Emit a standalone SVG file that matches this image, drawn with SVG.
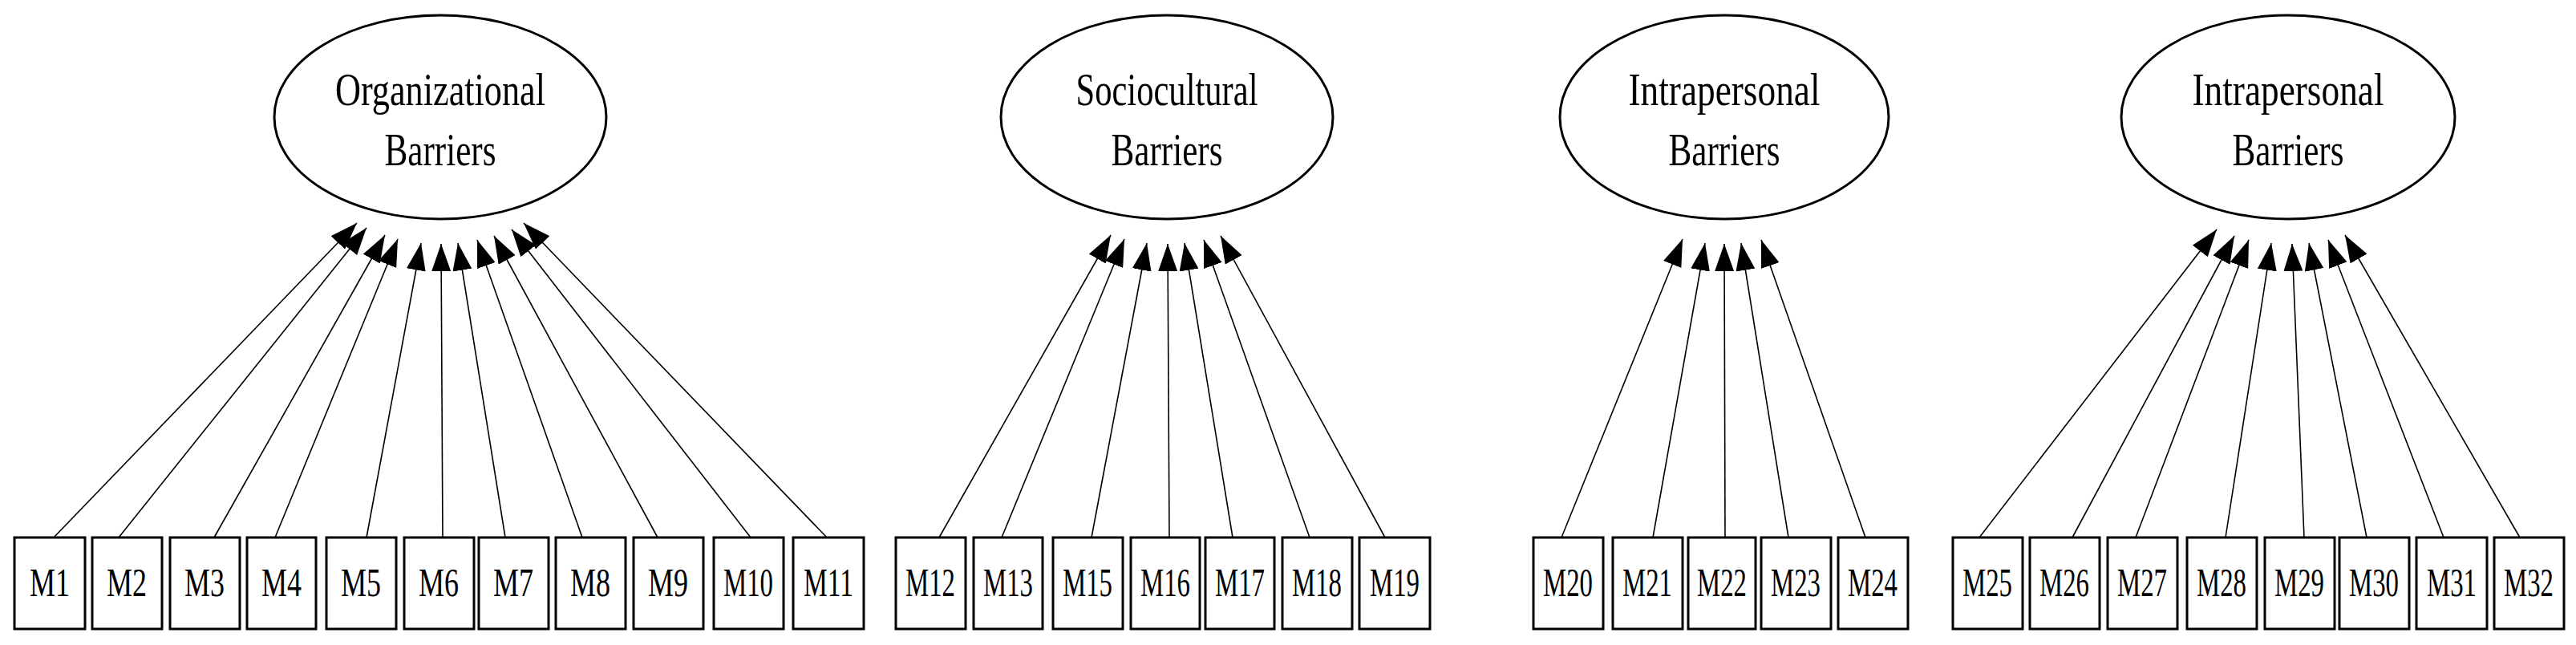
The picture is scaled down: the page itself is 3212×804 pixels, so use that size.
<svg xmlns="http://www.w3.org/2000/svg" width="3212" height="804" viewBox="0 0 3212 804">
<style>
text{font-family:"Liberation Serif","Times New Roman",serif;fill:#000;text-anchor:middle}
.lat{font-size:56px}
.obs{font-size:50px}
ellipse,rect{fill:#fff;stroke:#000;stroke-width:3}
line{stroke:#000;stroke-width:1.6}
</style>
<defs>
<marker id="ah" markerUnits="userSpaceOnUse" markerWidth="34" markerHeight="24" refX="34" refY="12" orient="auto" viewBox="0 0 34 24"><path d="M0,0 L34,12 L0,24 z" fill="#000"/></marker>
</defs>
<g id="connectors">
<line x1="67" y1="670" x2="445" y2="278" marker-end="url(#ah)"/>
<line x1="148" y1="670" x2="457" y2="284" marker-end="url(#ah)"/>
<line x1="267" y1="670" x2="480" y2="293" marker-end="url(#ah)"/>
<line x1="343" y1="670" x2="496" y2="298" marker-end="url(#ah)"/>
<line x1="457" y1="670" x2="525" y2="303" marker-end="url(#ah)"/>
<line x1="552" y1="670" x2="550" y2="304" marker-end="url(#ah)"/>
<line x1="630" y1="670" x2="571" y2="303" marker-end="url(#ah)"/>
<line x1="726" y1="670" x2="595" y2="299" marker-end="url(#ah)"/>
<line x1="820" y1="670" x2="616" y2="294" marker-end="url(#ah)"/>
<line x1="936" y1="670" x2="638" y2="286" marker-end="url(#ah)"/>
<line x1="1031" y1="670" x2="653" y2="278" marker-end="url(#ah)"/>
<line x1="1171" y1="670" x2="1385" y2="293" marker-end="url(#ah)"/>
<line x1="1249" y1="670" x2="1402" y2="298" marker-end="url(#ah)"/>
<line x1="1361" y1="670" x2="1430" y2="303" marker-end="url(#ah)"/>
<line x1="1458" y1="670" x2="1456" y2="304" marker-end="url(#ah)"/>
<line x1="1537" y1="670" x2="1477" y2="303" marker-end="url(#ah)"/>
<line x1="1633" y1="670" x2="1501" y2="299" marker-end="url(#ah)"/>
<line x1="1727" y1="670" x2="1522" y2="294" marker-end="url(#ah)"/>
<line x1="1947" y1="670" x2="2098" y2="298" marker-end="url(#ah)"/>
<line x1="2061" y1="670" x2="2126" y2="303" marker-end="url(#ah)"/>
<line x1="2151" y1="670" x2="2150" y2="304" marker-end="url(#ah)"/>
<line x1="2230" y1="670" x2="2171" y2="303" marker-end="url(#ah)"/>
<line x1="2326" y1="670" x2="2196" y2="299" marker-end="url(#ah)"/>
<line x1="2468" y1="670" x2="2764" y2="286" marker-end="url(#ah)"/>
<line x1="2584" y1="670" x2="2786" y2="294" marker-end="url(#ah)"/>
<line x1="2663" y1="670" x2="2804" y2="299" marker-end="url(#ah)"/>
<line x1="2775" y1="670" x2="2832" y2="303" marker-end="url(#ah)"/>
<line x1="2873" y1="670" x2="2858" y2="304" marker-end="url(#ah)"/>
<line x1="2951" y1="670" x2="2879" y2="303" marker-end="url(#ah)"/>
<line x1="3047" y1="670" x2="2903" y2="299" marker-end="url(#ah)"/>
<line x1="3142" y1="670" x2="2924" y2="293" marker-end="url(#ah)"/>
</g>
<g id="organizational"><ellipse cx="549" cy="146" rx="207" ry="127"/><text class="lat" x="549" y="131" textLength="262" lengthAdjust="spacingAndGlyphs">Organizational</text><text class="lat" x="549" y="206" textLength="139" lengthAdjust="spacingAndGlyphs">Barriers</text></g>
<g id="sociocultural"><ellipse cx="1455" cy="146" rx="207" ry="127"/><text class="lat" x="1455" y="131" textLength="227" lengthAdjust="spacingAndGlyphs">Sociocultural</text><text class="lat" x="1455" y="206" textLength="139" lengthAdjust="spacingAndGlyphs">Barriers</text></g>
<g id="intrapersonal1"><ellipse cx="2150" cy="146" rx="205" ry="127"/><text class="lat" x="2150" y="131" textLength="239" lengthAdjust="spacingAndGlyphs">Intrapersonal</text><text class="lat" x="2150" y="206" textLength="139" lengthAdjust="spacingAndGlyphs">Barriers</text></g>
<g id="intrapersonal2"><ellipse cx="2853" cy="146" rx="208" ry="127"/><text class="lat" x="2853" y="131" textLength="239" lengthAdjust="spacingAndGlyphs">Intrapersonal</text><text class="lat" x="2853" y="206" textLength="139" lengthAdjust="spacingAndGlyphs">Barriers</text></g>
<g id="M1"><rect x="18" y="670" width="88" height="114"/><text class="obs" x="62" y="743" textLength="50" lengthAdjust="spacingAndGlyphs">M1</text></g>
<g id="M2"><rect x="115" y="670" width="87" height="114"/><text class="obs" x="158" y="743" textLength="50" lengthAdjust="spacingAndGlyphs">M2</text></g>
<g id="M3"><rect x="212" y="670" width="87" height="114"/><text class="obs" x="255" y="743" textLength="50" lengthAdjust="spacingAndGlyphs">M3</text></g>
<g id="M4"><rect x="308" y="670" width="86" height="114"/><text class="obs" x="351" y="743" textLength="50" lengthAdjust="spacingAndGlyphs">M4</text></g>
<g id="M5"><rect x="407" y="670" width="87" height="114"/><text class="obs" x="450" y="743" textLength="50" lengthAdjust="spacingAndGlyphs">M5</text></g>
<g id="M6"><rect x="504" y="670" width="87" height="114"/><text class="obs" x="547" y="743" textLength="50" lengthAdjust="spacingAndGlyphs">M6</text></g>
<g id="M7"><rect x="597" y="670" width="87" height="114"/><text class="obs" x="640" y="743" textLength="50" lengthAdjust="spacingAndGlyphs">M7</text></g>
<g id="M8"><rect x="693" y="670" width="87" height="114"/><text class="obs" x="736" y="743" textLength="50" lengthAdjust="spacingAndGlyphs">M8</text></g>
<g id="M9"><rect x="790" y="670" width="87" height="114"/><text class="obs" x="833" y="743" textLength="50" lengthAdjust="spacingAndGlyphs">M9</text></g>
<g id="M10"><rect x="890" y="670" width="87" height="114"/><text class="obs" x="933" y="743" textLength="62" lengthAdjust="spacingAndGlyphs">M10</text></g>
<g id="M11"><rect x="989" y="670" width="88" height="114"/><text class="obs" x="1033" y="743" textLength="62" lengthAdjust="spacingAndGlyphs">M11</text></g>
<g id="M12"><rect x="1117" y="670" width="87" height="114"/><text class="obs" x="1160" y="743" textLength="62" lengthAdjust="spacingAndGlyphs">M12</text></g>
<g id="M13"><rect x="1214" y="670" width="86" height="114"/><text class="obs" x="1257" y="743" textLength="62" lengthAdjust="spacingAndGlyphs">M13</text></g>
<g id="M15"><rect x="1313" y="670" width="87" height="114"/><text class="obs" x="1356" y="743" textLength="62" lengthAdjust="spacingAndGlyphs">M15</text></g>
<g id="M16"><rect x="1410" y="670" width="86" height="114"/><text class="obs" x="1453" y="743" textLength="62" lengthAdjust="spacingAndGlyphs">M16</text></g>
<g id="M17"><rect x="1503" y="670" width="86" height="114"/><text class="obs" x="1546" y="743" textLength="62" lengthAdjust="spacingAndGlyphs">M17</text></g>
<g id="M18"><rect x="1599" y="670" width="87" height="114"/><text class="obs" x="1642" y="743" textLength="62" lengthAdjust="spacingAndGlyphs">M18</text></g>
<g id="M19"><rect x="1695" y="670" width="88" height="114"/><text class="obs" x="1739" y="743" textLength="62" lengthAdjust="spacingAndGlyphs">M19</text></g>
<g id="M20"><rect x="1912" y="670" width="87" height="114"/><text class="obs" x="1955" y="743" textLength="62" lengthAdjust="spacingAndGlyphs">M20</text></g>
<g id="M21"><rect x="2011" y="670" width="87" height="114"/><text class="obs" x="2054" y="743" textLength="62" lengthAdjust="spacingAndGlyphs">M21</text></g>
<g id="M22"><rect x="2105" y="670" width="84" height="114"/><text class="obs" x="2147" y="743" textLength="62" lengthAdjust="spacingAndGlyphs">M22</text></g>
<g id="M23"><rect x="2196" y="670" width="87" height="114"/><text class="obs" x="2239" y="743" textLength="62" lengthAdjust="spacingAndGlyphs">M23</text></g>
<g id="M24"><rect x="2292" y="670" width="87" height="114"/><text class="obs" x="2335" y="743" textLength="62" lengthAdjust="spacingAndGlyphs">M24</text></g>
<g id="M25"><rect x="2435" y="670" width="87" height="114"/><text class="obs" x="2478" y="743" textLength="62" lengthAdjust="spacingAndGlyphs">M25</text></g>
<g id="M26"><rect x="2531" y="670" width="87" height="114"/><text class="obs" x="2574" y="743" textLength="62" lengthAdjust="spacingAndGlyphs">M26</text></g>
<g id="M27"><rect x="2628" y="670" width="87" height="114"/><text class="obs" x="2671" y="743" textLength="62" lengthAdjust="spacingAndGlyphs">M27</text></g>
<g id="M28"><rect x="2727" y="670" width="87" height="114"/><text class="obs" x="2770" y="743" textLength="62" lengthAdjust="spacingAndGlyphs">M28</text></g>
<g id="M29"><rect x="2824" y="670" width="87" height="114"/><text class="obs" x="2867" y="743" textLength="62" lengthAdjust="spacingAndGlyphs">M29</text></g>
<g id="M30"><rect x="2917" y="670" width="87" height="114"/><text class="obs" x="2960" y="743" textLength="62" lengthAdjust="spacingAndGlyphs">M30</text></g>
<g id="M31"><rect x="3013" y="670" width="88" height="114"/><text class="obs" x="3057" y="743" textLength="62" lengthAdjust="spacingAndGlyphs">M31</text></g>
<g id="M32"><rect x="3110" y="670" width="87" height="114"/><text class="obs" x="3153" y="743" textLength="62" lengthAdjust="spacingAndGlyphs">M32</text></g>
</svg>
